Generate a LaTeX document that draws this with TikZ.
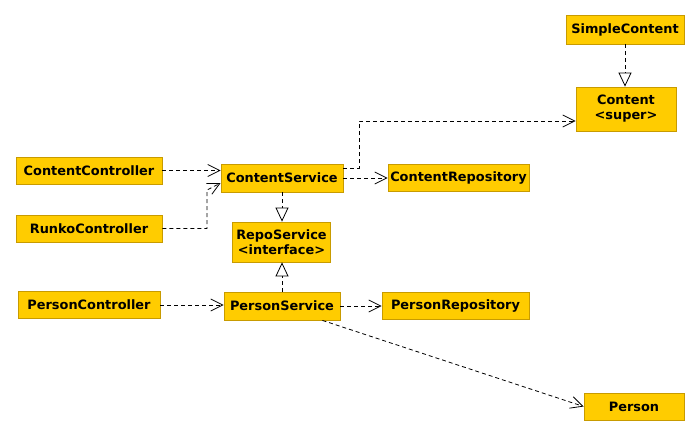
\documentclass[tikz,border=0pt]{standalone}
\usepackage{fontspec}
\setmainfont{DejaVu Sans}
\usetikzlibrary{arrows.meta, positioning, calc}
\definecolor{BoxYellow}{HTML}{FFCC00}
\definecolor{BoxEdge}{HTML}{C89B00}
\tikzset{
    % Class boxes
    classbox/.style={
        rectangle,
        draw=BoxEdge,
        fill=BoxYellow,
        line width=0.8pt,
        inner sep=0pt,
        align=center,
        font=\fontsize{12.9}{15}\selectfont\bfseries
    },
    % Dependency: dashed, open barb
    deparrow/.style={
        -{Straight Barb[length=12pt,width=12pt]},
        line width=0.8pt,
        dash pattern=on 4pt off 3pt
    },
    % Realization: dashed, hollow triangle
    implarrow/.style={
        -{Triangle[open,length=14pt,width=13pt]},
        line width=0.8pt,
        dash pattern=on 4pt off 3pt
    }
}
\begin{document}
\begin{tikzpicture}[x=1pt, y=-1pt]
    \useasboundingbox (0,0) rectangle (699,436);

    % Content side
    \node[classbox, minimum width=118pt, minimum height=29pt] (simple) at (625,29.5) {SimpleContent};
    \node[classbox, minimum width=100pt, minimum height=44pt] (content) at (626,109) {Content\\<super>};
    \node[classbox, minimum width=146pt, minimum height=27pt] (cctrl) at (89,170.5) {ContentController};
    \node[classbox, minimum width=122pt, minimum height=28pt] (csvc) at (282,178) {ContentService};
    \node[classbox, minimum width=141pt, minimum height=27pt] (crepo) at (458.5,177.5) {ContentRepository};
    \node[classbox, minimum width=146pt, minimum height=27pt] (rctrl) at (89,228.5) {RunkoController};

    % Shared interface
    \node[classbox, minimum width=98pt, minimum height=40pt] (repo) at (281.5,242) {RepoService\\<interface>};

    % Person side
    \node[classbox, minimum width=142pt, minimum height=27pt] (pctrl) at (89,305) {PersonController};
    \node[classbox, minimum width=116pt, minimum height=28pt] (psvc) at (282,306) {PersonService};
    \node[classbox, minimum width=147pt, minimum height=27pt] (prepo) at (455.5,305.5) {PersonRepository};
    \node[classbox, minimum width=100pt, minimum height=27pt] (person) at (634,406.5) {Person};

    % Dependencies
    \draw[deparrow] (cctrl.east) -- (cctrl.east -| csvc.west);
    \coordinate (rbend) at (207,190);
    \draw[deparrow] (rctrl.east) -| (rbend) -- ([yshift=-5pt]csvc.west);
    \draw[deparrow] ([yshift=10pt]csvc.east) -- ++(16,0) |- ([yshift=-12pt]content.west);
    \draw[deparrow] (csvc.east) -- (csvc.east -| crepo.west);
    \draw[deparrow] (pctrl.east) -- (pctrl.east -| psvc.west);
    \draw[deparrow] (psvc.east) -- (psvc.east -| prepo.west);
    \draw[deparrow] ([xshift=-18pt]psvc.south east) -- (person.west);

    % Realizations
    \draw[implarrow] (simple.south) -- (simple.south |- content.north);
    \draw[implarrow] (csvc.south) -- (csvc.south |- repo.north);
    \draw[implarrow] (psvc.north) -- (psvc.north |- repo.south);
\end{tikzpicture}
\end{document}
